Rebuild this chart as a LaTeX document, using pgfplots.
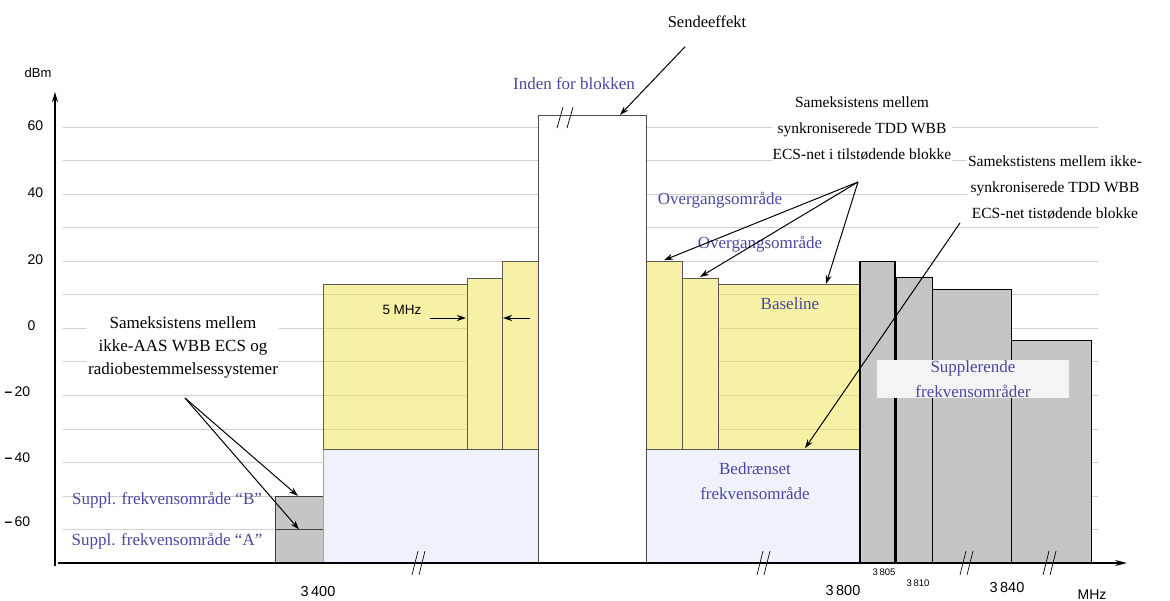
\documentclass[border=0pt]{standalone}
\usepackage{pgfplots}
\pgfplotsset{compat=1.18}
\usepackage{fontspec}
\setmainfont{Liberation Serif}
\setsansfont{Liberation Sans}
\usetikzlibrary{arrows.meta}
\definecolor{ylw}{RGB}{247,241,166}
\definecolor{ylwline}{RGB}{222,216,150}
\definecolor{lblue}{RGB}{239,242,250}
\definecolor{gblk}{RGB}{197,197,197}
\definecolor{tblue}{RGB}{72,72,158}
\definecolor{gridc}{RGB}{208,208,208}
\newcommand{\ann}{\fontsize{16.5}{25}\selectfont}
\newcommand{\annr}{\fontsize{15.5}{26}\selectfont}
\newcommand{\blt}{\fontsize{17}{25}\selectfont}
\newcommand{\tck}{\sffamily\fontsize{14}{16}\selectfont}
\begin{document}
\begin{tikzpicture}[>={Stealth[length=9pt,width=6pt]}]
\begin{axis}[
  at={(0,0)}, anchor=south west,
  width=1170pt, height=600pt, scale only axis,
  xmin=0, xmax=1170, ymin=-81.03, ymax=97.87,
  hide axis, clip=false,
]
% grid lines
\pgfplotsinvokeforeach{-60,-50,...,60}{\draw[gridc, line width=0.7pt] (axis cs:63,#1) -- (axis cs:1098,#1);}

% Suppl. A / B
\addplot[fill=gblk, draw=gray!50!black, line width=0.8pt] coordinates {(275,-70) (323,-70) (323,-50) (275,-50)} -- cycle;
\addplot[draw=gray!50!black, line width=0.8pt] coordinates {(275,-60) (323,-60)};
% restricted (light blue)
\addplot[fill=lblue, draw=gray!70, line width=0.8pt] coordinates {(323,-70) (538,-70) (538,-36) (323,-36)} -- cycle;
\addplot[fill=lblue, draw=gray!70, line width=0.8pt] coordinates {(646,-70) (860,-70) (860,-36) (646,-36)} -- cycle;
% yellow blocks
\addplot[fill=ylw, draw=gray!70!black, line width=0.7pt] coordinates {(323,-36) (467,-36) (467,13) (323,13)} -- cycle;
\addplot[fill=ylw, draw=gray!70!black, line width=0.7pt] coordinates {(718,-36) (860,-36) (860,13) (718,13)} -- cycle;
\pgfplotsinvokeforeach{-30,-20,...,10}{\draw[ylwline, line width=0.7pt] (axis cs:324,#1) -- (axis cs:466,#1);
  \draw[ylwline, line width=0.7pt] (axis cs:719,#1) -- (axis cs:859,#1);}
\addplot[fill=ylw, draw=gray!70!black, line width=0.7pt] coordinates {(467,-36) (502,-36) (502,15) (467,15)} -- cycle;
\addplot[fill=ylw, draw=gray!70!black, line width=0.7pt] coordinates {(502,-36) (538,-36) (538,20) (502,20)} -- cycle;
\addplot[fill=ylw, draw=gray!70!black, line width=0.7pt] coordinates {(646,-36) (682,-36) (682,20) (646,20)} -- cycle;
\addplot[fill=ylw, draw=gray!70!black, line width=0.7pt] coordinates {(682,-36) (718,-36) (718,15) (682,15)} -- cycle;
% in-block (white)
\addplot[fill=white, draw=gray!60!black, line width=0.8pt] coordinates {(538,-70) (646,-70) (646,63.5) (538,63.5)} -- cycle;
% gray supplementary blocks
\addplot[fill=gblk, draw=black, line width=0.9pt] coordinates {(1011,-70) (1091,-70) (1091,-3.5) (1011,-3.5)} -- cycle;
\addplot[fill=gblk, draw=black, line width=0.9pt] coordinates {(932,-70) (1011,-70) (1011,11.5) (932,11.5)} -- cycle;
\addplot[fill=gblk, draw=black, line width=0.9pt] coordinates {(896,-70) (932,-70) (932,15) (896,15)} -- cycle;
\addplot[fill=gblk, draw=black, line width=1.3pt] coordinates {(860,-70) (895,-70) (895,20) (860,20)} -- cycle;
\draw[fill=white!91!gray, draw=none] (axis cs:877,-9.5) rectangle (axis cs:1069,-20.8);

% axes
\draw[-{Stealth[length=10pt,width=6pt]}, line width=1.1pt] (axis cs:55,-71) -- (axis cs:55,70.4);
\draw[-{Stealth[length=12pt,width=6pt]}, line width=1.5pt] (axis cs:58,-70) -- (axis cs:1127,-70);

% break marks
\pgfplotsinvokeforeach{420,765,968,1051}{
  \draw[line width=0.7pt] ([xshift=-8pt,yshift=-12pt]axis cs:#1,-70) -- ++(6pt,24pt);
  \draw[line width=0.7pt] ([xshift=-1pt,yshift=-12pt]axis cs:#1,-70) -- ++(6pt,24pt);}
\draw[line width=0.7pt] ([xshift=-8pt,yshift=-10.5pt]axis cs:565,62.8) -- ++(6pt,21pt);
\draw[line width=0.7pt] ([xshift=2pt,yshift=-10.5pt]axis cs:565,62.8) -- ++(6pt,21pt);

% y tick labels
\node[font=\sffamily\fontsize{13}{15}\selectfont] at (axis cs:38,76.1) {dBm};
\node[font=\tck, anchor=west] at (axis cs:24,60.3) {60};
\node[font=\tck, anchor=west] at (axis cs:24,40.3) {40};
\node[font=\tck, anchor=west] at (axis cs:24,20.3) {20};
\node[font=\tck, anchor=west] at (axis cs:24,0.9) {0};
\node[font=\tck, anchor=west] at (axis cs:1,-19.0) {\textbf{–}\,20};
\node[font=\tck, anchor=west] at (axis cs:1,-38.7) {\textbf{–}\,40};
\node[font=\tck, anchor=west] at (axis cs:1,-57.8) {\textbf{–}\,60};
% x tick labels
\node[font=\sffamily\fontsize{14.5}{16}\selectfont] at (axis cs:318,-78.6) {3\,400};
\node[font=\sffamily\fontsize{14.5}{16}\selectfont] at (axis cs:843,-78.3) {3\,800};
\node[font=\sffamily\fontsize{9.5}{11}\selectfont] at (axis cs:884,-72.8) {3\,805};
\node[font=\sffamily\fontsize{9.5}{11}\selectfont] at (axis cs:918,-76.0) {3\,810};
\node[font=\sffamily\fontsize{14.5}{16}\selectfont] at (axis cs:1007,-77.4) {3\,840};
\node[font=\sffamily\fontsize{14}{16}\selectfont] at (axis cs:1092,-79.4) {MHz};

% annotations
\node[font=\ann] at (axis cs:707,91.3) {Sendeeffekt};
\draw[->, line width=1pt] (axis cs:685,83.9) -- (axis cs:620,63.6);
\node[font=\blt, text=tblue] at (axis cs:574,72.8) {Inden for blokken};

\node[font=\annr, align=center, fill=white, inner sep=1pt] at (axis cs:862,59.7) {Sameksistens mellem\\synkroniserede TDD WBB\\ECS-net i tilstødende blokke};
\node[font=\annr, align=center, fill=white, inner sep=1pt] at (axis cs:1055,42.1) {Samekstistens mellem ikke-\\synkroniserede TDD WBB\\ECS-net tistødende blokke};

\node[font=\blt, text=tblue] at (axis cs:720,38.2) {Overgangsområde};
\node[font=\blt, text=tblue] at (axis cs:760,25.1) {Overgangsområde};
\node[font=\blt, text=tblue] at (axis cs:790,7.2) {Baseline};
\draw[->, line width=1pt] (axis cs:858,43.6) -- (axis cs:664,20.3);
\draw[->, line width=1pt] (axis cs:858,43.6) -- (axis cs:700,15.3);
\draw[->, line width=1pt] (axis cs:858,43.6) -- (axis cs:826,13.2);
\draw[->, line width=1pt] (axis cs:960,31.4) -- (axis cs:805,-35.8);

\node[font=\blt, text=tblue, align=center] at (axis cs:755,-45.7) {Bedrænset\\frekvensområde};
\node[font=\blt, text=tblue, align=center] at (axis cs:973,-15.1) {Supplerende\\frekvensområder};

\node[font=\sffamily\fontsize{13.5}{15}\selectfont] at (axis cs:402,5.4) {5 MHz};
\draw[->, line width=1pt] (axis cs:430,3.05) -- (axis cs:466,3.05);
\draw[->, line width=1pt] (axis cs:530,3.05) -- (axis cs:503,3.05);

\node[font=\fontsize{17}{23}\selectfont, align=center, fill=white, inner sep=1pt] at (axis cs:183,-5.6) {Sameksistens mellem\\ikke-AAS WBB ECS og\\radiobestemmelsessystemer};
\draw[->, line width=1pt] (axis cs:185,-20.8) -- (axis cs:298,-50);
\draw[->, line width=1pt] (axis cs:185,-20.8) -- (axis cs:299,-60);

\node[font=\blt, text=tblue] at (axis cs:167,-51.2) {Suppl. frekvensområde “B”};
\node[font=\blt, text=tblue] at (axis cs:167,-63.4) {Suppl. frekvensområde “A”};
\end{axis}
\pgfresetboundingbox
\path (0,0) rectangle (1170pt,600pt);
\end{tikzpicture}
\end{document}
